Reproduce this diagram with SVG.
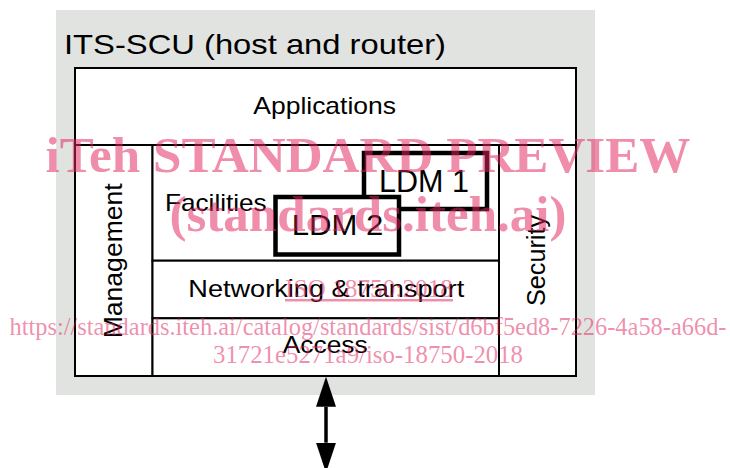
<svg xmlns="http://www.w3.org/2000/svg" width="730" height="468" viewBox="0 0 730 468">
<style>
.box{fill:#ffffff;stroke:#000000;stroke-width:2}
.ldm{fill:#ffffff;stroke:#000000;stroke-width:4.5}
.t{font-family:"Liberation Sans",Arial,sans-serif;fill:#000000}
.wm{font-family:"Liberation Serif","Times New Roman",serif;fill:#e0245e;fill-opacity:0.52;text-anchor:middle}
</style>
<defs>
<marker id="ah" viewBox="0 0 30 20" refX="0" refY="10" markerWidth="30" markerHeight="20" markerUnits="userSpaceOnUse" orient="auto-start-reverse">
<path d="M0,0 L30,10 L0,20 Z" fill="#000000"/>
</marker>
</defs>
<g id="its-scu">
<rect x="56" y="10" width="539" height="385" fill="#e1e3e0"/>
<text class="t" x="64" y="54" font-size="28" textLength="382" lengthAdjust="spacingAndGlyphs">ITS-SCU (host and router)</text>
</g>
<g id="applications">
<rect class="box" x="75" y="68" width="501" height="77"/>
<text class="t" x="253.3" y="114.3" font-size="24" textLength="142.7" lengthAdjust="spacingAndGlyphs">Applications</text>
</g>
<g id="management">
<rect class="box" x="75" y="145" width="77.5" height="231"/>
<text class="t" transform="translate(121.7,338.3) rotate(-90)" font-size="25" textLength="155" lengthAdjust="spacingAndGlyphs">Management</text>
</g>
<g id="security">
<rect class="box" x="499" y="145" width="77" height="231"/>
<text class="t" transform="translate(545,306) rotate(-90)" font-size="25" textLength="91" lengthAdjust="spacingAndGlyphs">Security</text>
</g>
<g id="facilities">
<rect class="box" x="152.5" y="145" width="346.5" height="115.7"/>
<text class="t" x="165" y="210.7" font-size="24" textLength="101.7" lengthAdjust="spacingAndGlyphs">Facilities</text>
</g>
<g id="networking">
<rect class="box" x="152.5" y="260.7" width="346.5" height="57.6"/>
<text class="t" x="188.3" y="296.7" font-size="23.5" textLength="276" lengthAdjust="spacingAndGlyphs">Networking &amp; transport</text>
</g>
<g id="access">
<rect class="box" x="152.5" y="318.3" width="346.5" height="57.7"/>
<text class="t" x="282.7" y="353.3" font-size="23.5" textLength="85" lengthAdjust="spacingAndGlyphs">Access</text>
</g>
<g id="ldm1">
<rect class="ldm" x="364" y="153" width="123" height="56"/>
<text class="t" x="379" y="191.7" font-size="31" textLength="90" lengthAdjust="spacingAndGlyphs">LDM 1</text>
</g>
<g id="ldm2">
<rect class="ldm" x="275.5" y="197" width="123.5" height="57.5"/>
<text class="t" x="291.7" y="235" font-size="30" textLength="91.6" lengthAdjust="spacingAndGlyphs">LDM 2</text>
</g>
<g id="connectors">
<line x1="326" y1="406.7" x2="326" y2="442.7" stroke="#000000" stroke-width="3.5" marker-start="url(#ah)" marker-end="url(#ah)"/>
</g>
<g id="watermark">
<text class="wm" x="368" y="171.7" font-size="50" font-weight="bold" textLength="645" lengthAdjust="spacingAndGlyphs">iTeh STANDARD PREVIEW</text>
<text class="wm" x="368" y="231" font-size="50" font-weight="bold" textLength="397" lengthAdjust="spacingAndGlyphs">(standards.iteh.ai)</text>
<text class="wm" x="369" y="297" font-size="24.5" text-decoration="underline" textLength="168" lengthAdjust="spacingAndGlyphs">ISO 18750:2018</text>
<text class="wm" x="368" y="335" font-size="24.5" textLength="717" lengthAdjust="spacingAndGlyphs">https://standards.iteh.ai/catalog/standards/sist/d6bf5ed8-7226-4a58-a66d-</text>
<text class="wm" x="368" y="363.3" font-size="24.5" textLength="310" lengthAdjust="spacingAndGlyphs">31721e5271a9/iso-18750-2018</text>
</g>
</svg>
